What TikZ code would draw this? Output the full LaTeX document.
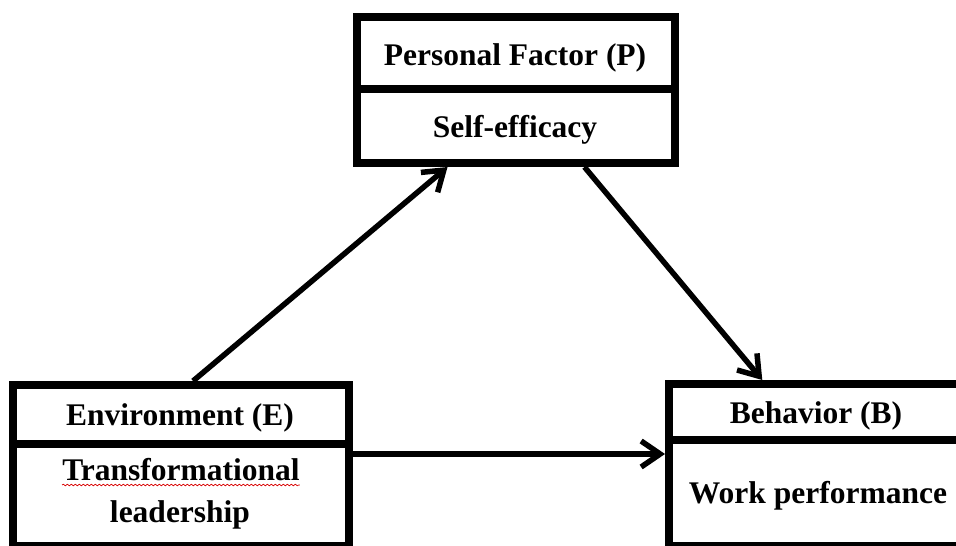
\documentclass[tikz,border=0pt]{standalone}
\usepackage{fontspec}
\setmainfont{Liberation Serif}
\usetikzlibrary{arrows.meta,calc,decorations.pathmorphing}
\begin{document}
\begin{tikzpicture}[x=1pt,y=-1pt,
  box/.style={draw=black,line width=8pt,fill=none,inner sep=0pt,outer sep=4pt},
  lbl/.style={font=\fontsize{31.5}{38}\selectfont\bfseries,inner sep=0pt,anchor=base},
  conn/.style={line width=5.5pt,-{Straight Barb[length=19pt,width=26pt]}},
  divider/.style={line width=8pt}]
\useasboundingbox (0,0) rectangle (956,546);
\fill[white] (0,0) rectangle (956,546);
\clip (0,0) rectangle (956,546);

% boxes
\node[box,minimum width=318pt,minimum height=146pt] (P) at (516,90) {};
\node[box,minimum width=336pt,minimum height=161pt] (E) at (181,465.5) {};
\node[box,minimum width=296pt,minimum height=162pt] (B) at (817,465) {};

% dividers
\coordinate (pd) at (0,89);
\coordinate (ed) at (0,444);
\coordinate (bd) at (0,440);
\draw[divider] ($(P.west |- pd)+(4,0)$) -- ($(P.east |- pd)+(-4,0)$);
\draw[divider] ($(E.west |- ed)+(4,0)$) -- ($(E.east |- ed)+(-4,0)$);
\draw[divider] ($(B.west |- bd)+(4,0)$) -- ($(B.east |- bd)+(-4,0)$);

% labels
\node[lbl] (pt) at (515,65) {Personal Factor (P)};
\node[lbl] (pb) at (515,137) {Self-efficacy};
\node[lbl] (et) at (180,425) {Environment (E)};
\node[lbl] (eb1) at (181,480) {Transformational};
\node[lbl] (eb2) at (180,522) {leadership};
\node[lbl] (bt) at (816,423) {Behavior (B)};
\node[lbl] (bb) at (818,503) {Work performance};

% spell-check squiggle
\draw[red!85!black,line width=0.7pt,decorate,decoration={snake,amplitude=0.8pt,segment length=4pt}]
  ($(eb1.base west)+(0,5)$) -- ($(eb1.base east)+(0,5)$);

% connectors
\coordinate (h) at (0,454);
\draw[conn] ($(E.north west)!0.535!(E.north east)$) -- ($(P.south west)!0.29!(P.south east)$);
\draw[conn] ($(P.south west)!0.71!(P.south east)$) -- ($(B.north west)!0.32!(B.north east)$);
\draw[conn] (E.east |- h) -- (B.west |- h);
\end{tikzpicture}
\end{document}
